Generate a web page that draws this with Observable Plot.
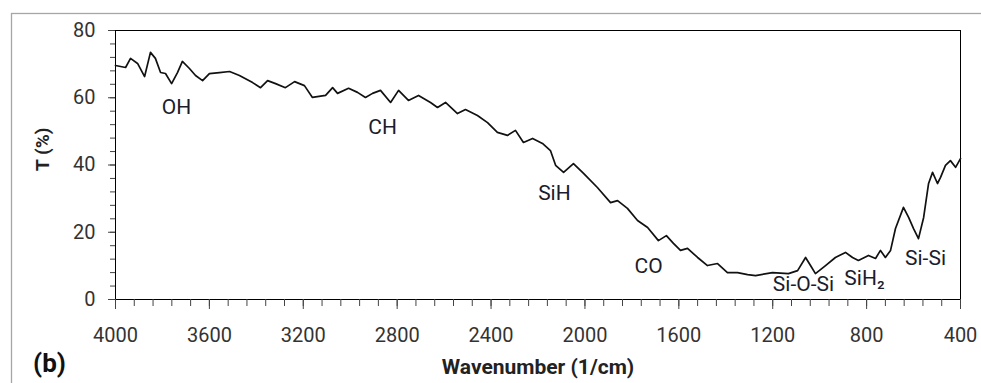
<!DOCTYPE html>
<html>
<head>
<meta charset="utf-8">
<script src="https://cdn.jsdelivr.net/npm/d3@7"></script>
<script src="https://cdn.jsdelivr.net/npm/@observablehq/plot@0.6"></script>
<style>
  html, body { margin: 0; padding: 0; background: #fff; }
  #chart svg { display: block; }
</style>
</head>
<body>
<div id="chart"></div>
<script>
// Spectrum
const wavenumber = [4000,3957,3936,3906,3876,3851,3830,3808,3787,3761,3736,3715,3685,3659,3629,3600,3557,3514,3472,3416,3382,3352,3318,3276,3237,3195,3161,3105,3075,3054,3007,2969,2935,2905,2871,2828,2794,2752,2709,2658,2628,2594,2543,2509,2458,2415,2373,2330,2296,2262,2223,2181,2147,2125,2091,2049,2006,1947,1891,1861,1819,1776,1733,1687,1653,1623,1593,1563,1520,1478,1435,1393,1350,1307,1273,1201,1133,1094,1060,1039,1018,975,933,890,860,835,792,762,741,720,698,677,643,621,600,579,557,536,519,498,485,464,443,421,400];
const transmittance = [69.6,69.0,71.7,70.2,66.3,73.5,71.7,67.5,67.2,64.2,67.5,70.8,68.7,66.6,65.1,67.2,67.5,67.8,66.6,64.5,63.0,65.1,64.2,63.0,64.8,63.6,60.1,60.7,63.0,61.3,62.8,61.6,60.1,61.3,62.2,58.6,62.2,59.2,60.7,58.6,57.1,58.6,55.3,56.5,54.7,52.6,49.7,48.8,50.3,46.7,47.9,46.4,44.3,39.9,37.8,40.4,37.5,33.3,28.8,29.4,27.1,23.5,21.4,17.5,19.0,16.7,14.6,15.2,12.5,10.1,10.7,8.0,8.0,7.4,7.1,8.0,7.7,8.6,12.5,10.1,7.7,10.1,12.5,14.0,12.5,11.6,13.1,12.2,14.6,12.5,14.6,21.1,27.4,24.4,21.1,18.1,24.4,34.5,37.8,34.5,36.3,39.9,41.3,39.3,41.9];

// Band annotations
const bandLabels = ["OH","CH","SiH","CO","Si-O-Si","SiH\u2082","Si-Si"];
const bandWn = [3740,2862,2130,1729,1069,809,549];
const bandT = [57.1,51.2,31.5,9.8,4.4,6.2,12.2];

// Axis ticks
const xMajorTicks = [4000,3600,3200,2800,2400,2000,1600,1200,800,400];
const yMajorTicks = [0,20,40,60,80];

const xTitle = "Wavenumber (1/cm)";
const yTitle = "T (%)";
const panelTag = "(b)";

const spectrum = wavenumber.map((w, i) => ({w, t: transmittance[i]}));
const bands = bandLabels.map((label, i) => ({label, w: bandWn[i], t: bandT[i]}));
const xMinor = d3.range(400, 4001, 80);
const yMinor = d3.range(0, 81, 4);

const font = "Roboto, 'Open Sans', sans-serif";

const plot = Plot.plot({
  width: 981,
  height: 383,
  marginLeft: 115,
  marginRight: 21,
  marginTop: 30,
  marginBottom: 84,
  style: {fontFamily: font, background: "#fff", overflow: "visible"},
  x: {domain: [4000, 400], type: "linear", label: null},
  y: {domain: [0, 80], label: null},
  marks: [
    Plot.frame({stroke: "#000", strokeWidth: 1}),
    Plot.axisX(xMinor, {tickSize: 7, text: null, stroke: "#444", label: null}),
    Plot.axisX(xMajorTicks, {tickSize: 10, tickPadding: 18, fontSize: 20, fill: "#333", stroke: "#444", tickFormat: d => String(d), label: null}),
    Plot.axisY(yMinor, {tickSize: 5, text: null, stroke: "#444", label: null}),
    Plot.axisY(yMajorTicks, {tickSize: 7, tickPadding: 13, fontSize: 20, fill: "#333", stroke: "#444", label: null}),
    Plot.line(spectrum, {x: "w", y: "t", stroke: "#111", strokeWidth: 1.7, strokeLinejoin: "round"}),
    Plot.text(bands, {x: "w", y: "t", text: "label", fontSize: 21, fill: "#1c1c2a", textAnchor: "middle", lineAnchor: "middle"}),
    Plot.text([xTitle], {frameAnchor: "bottom", dy: 68, fontSize: 21, fontWeight: "bold", fill: "#222", lineAnchor: "middle"}),
    Plot.text([yTitle], {frameAnchor: "left", dx: -73, dy: 6, rotate: -90, fontSize: 19, fontWeight: "bold", fill: "#222", lineAnchor: "middle"}),
    Plot.text([panelTag], {frameAnchor: "bottom-left", dx: -66, dy: 64, fontSize: 26, fontWeight: "bold", fill: "#111", textAnchor: "middle", lineAnchor: "middle"})
  ]
});

// outer chart-area border (light grey), as in the reference
d3.select(plot).insert("rect", ":first-child")
  .attr("x", 11.5).attr("y", 13.5).attr("width", 1000).attr("height", 400)
  .attr("fill", "none").attr("stroke", "#a6a6a6").attr("stroke-width", 1.3);

document.getElementById("chart").appendChild(plot);
</script>
</body>
</html>
